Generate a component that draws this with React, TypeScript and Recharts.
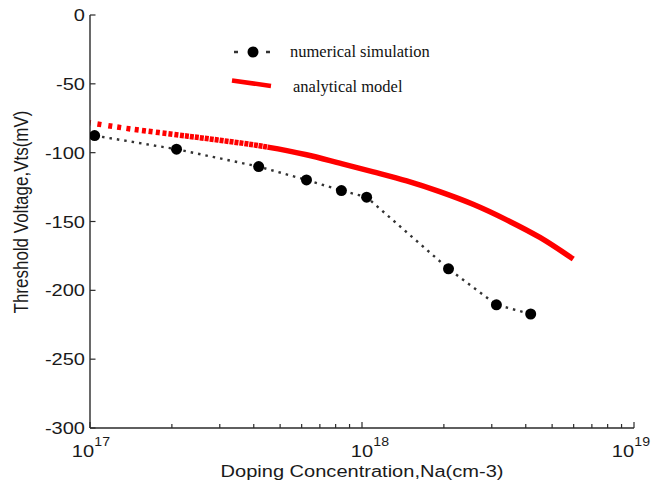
import React from 'react';
import { LineChart, Line, XAxis, YAxis, Legend } from 'recharts';

// ---- data ----
const simNa = [1.04e17, 2.08e17, 4.17e17, 6.25e17, 8.4e17, 1.04e18, 2.08e18, 3.12e18, 4.17e18];
const simVts = [-87.6, -97.5, -110.1, -119.8, -127.5, -132.3, -184.4, -210.5, -217.2];

const modelNa = [0.99e17, 1.39e17, 1.79e17, 2.29e17, 2.95e17, 4.2e17, 6.25e17, 8.28e17, 1.1e18, 1.46e18, 1.93e18, 2.56e18, 3.4e18, 4.51e18, 5.98e18];
const modelVts = [-78.2, -82.6, -85.4, -88.0, -90.8, -95.0, -101.5, -107.6, -113.9, -120.5, -128.3, -137.5, -148.8, -161.6, -177.3];

const xTickValues = [1e17, 2e17, 3e17, 4e17, 5e17, 6e17, 7e17, 8e17, 9e17, 1e18, 2e18, 3e18, 4e18, 5e18, 6e18, 7e18, 8e18, 9e18, 1e19];
const xLabelTicks = [1e17, 1e18, 1e19];
const yTickValues = [0, -50, -100, -150, -200, -250, -300];

const seriesNames = ['numerical simulation', 'analytical model'];
const xTitle = 'Doping Concentration,Na(cm-3)';
const yTitle = 'Threshold Voltage,Vts(mV)';

const simData = simNa.map((na, i) => ({ na, vts: simVts[i] }));
const modelData = modelNa.map((na, i) => ({ na, vts: modelVts[i] }));

// ---- styles ----
const FONT = '"Liberation Sans", Arial, Helvetica, sans-serif';
const SERIF = '"Liberation Serif", "Times New Roman", serif';
const SX = 1.18;
const AXIS = '#2a2a2a';
const TEXT = '#1a1a1a';
const RED = '#ff0000';
const MODEL_DASH =
  '2 6.7 4 7 4 5 4 5.3 4 4.4 4 3.3 4 2.7 4 3.3 4 2.7 4 2 4 2 4 1.6 4 1 4 1 4 1 4 1 4 1 4 1 4 1 4 1 4 1 4 1 4 1 4 1 4 1 4 0.8 4 0.8 4 0.7 4 0.6 4 0.5 4000 0';

const isMajor = (v: number) => xLabelTicks.some((t) => Math.abs(t - v) / t < 1e-6);
const labelShift: Record<number, number> = { 17: -7, 18: 0, 19: -11 };

const BottomTick = (props: any) => {
  const { x, y, payload } = props;
  const v = payload.value as number;
  const major = isMajor(v);
  const exp = Math.round(Math.log10(v));
  return (
    <g>
      <line x1={x} x2={x} y1={y} y2={y - (major ? 6 : 4)} stroke={AXIS} strokeWidth={1.2} />
      {major && (
        <g transform={`translate(${x + (labelShift[exp] || 0)},${y}) scale(${SX},1)`}>
          <text x={0} y={29} textAnchor="middle" fontSize={17} fontFamily={FONT} fill={TEXT}>10</text>
          <text x={9.6} y={18} textAnchor="start" fontSize={12} fontFamily={FONT} fill={TEXT}>{exp}</text>
        </g>
      )}
    </g>
  );
};

const TopTick = (props: any) => {
  const { x, y, payload } = props;
  const major = isMajor(payload.value);
  return <line x1={x} x2={x} y1={y} y2={y + (major ? 5 : 3)} stroke={AXIS} strokeWidth={1.2} />;
};

const LeftTick = (props: any) => {
  const { x, y, payload } = props;
  return (
    <g>
      <line x1={x} x2={x + 5.5} y1={y} y2={y} stroke={AXIS} strokeWidth={1.2} />
      <g transform={`translate(${x - 5},${y}) scale(${SX},1)`}>
        <text x={0} y={6} textAnchor="end" fontSize={17} fontFamily={FONT} fill={TEXT}>{payload.value}</text>
      </g>
    </g>
  );
};

const RightTick = (props: any) => {
  const { x, y } = props;
  return <line x1={x} x2={x - 6} y1={y} y2={y} stroke={AXIS} strokeWidth={1.2} />;
};

const XTitle = () => (
  <g transform={`translate(362,477) scale(${SX},1)`}>
    <text x={0} y={0} textAnchor="middle" fontSize={17} fontFamily={FONT} fill={TEXT}>{xTitle}</text>
  </g>
);

const YTitle = () => (
  <g transform={`translate(28,212) scale(${SX},1) rotate(-90)`}>
    <text x={0} y={0} textAnchor="middle" fontSize={17} fontFamily={FONT} fill={TEXT}>{yTitle}</text>
  </g>
);

const LG_X = 225;
const LG_Y = 35;
const LegendContent = () => (
  <svg width={240} height={70} style={{ display: 'block', overflow: 'visible' }}>
    <g transform={`translate(${-LG_X},${-LG_Y})`}>
      <line x1={234} x2={238} y1={52} y2={52} stroke="#333" strokeWidth={2.5} />
      <line x1={266} x2={270} y1={52} y2={52} stroke="#333" strokeWidth={2.5} />
      <circle cx={253} cy={52} r={5.5} fill="#000" />
      <text x={290} y={57} fontSize={16.5} fontFamily={SERIF} fill="#111">{seriesNames[0]}</text>
      <line x1={232} x2={271} y1={80.5} y2={86} stroke={RED} strokeWidth={4.5} />
      <text x={293} y={92} fontSize={16.5} fontFamily={SERIF} fill="#111">{seriesNames[1]}</text>
    </g>
  </svg>
);

export default function App() {
  return (
    <div style={{ position: 'absolute', left: 0, top: 0, width: 652, height: 489, background: '#fff' }}>
      <LineChart width={652} height={489} margin={{ top: 15, right: 18, bottom: 0, left: 0 }}>
        <XAxis
          xAxisId="bottom"
          dataKey="na"
          type="number"
          scale="log"
          domain={[1e17, 1e19]}
          allowDataOverflow
          ticks={xTickValues}
          interval={0}
          tickSize={0}
          tickMargin={0}
          tickLine={false}
          height={61}
          axisLine={{ stroke: AXIS, strokeWidth: 1.4 }}
          tick={(p: any) => <BottomTick {...p} />}
          label={<XTitle />}
        />
        <XAxis
          xAxisId="top"
          orientation="top"
          dataKey="na"
          type="number"
          scale="log"
          domain={[1e17, 1e19]}
          allowDataOverflow
          ticks={xTickValues}
          interval={0}
          tickSize={0}
          tickMargin={0}
          tickLine={false}
          height={0}
          axisLine={{ stroke: AXIS, strokeWidth: 1.4 }}
          tick={(p: any) => <TopTick {...p} />}
        />
        <YAxis
          yAxisId="left"
          type="number"
          domain={[-300, 0]}
          allowDataOverflow
          ticks={yTickValues}
          interval={0}
          tickSize={0}
          tickMargin={0}
          tickLine={false}
          width={90}
          axisLine={{ stroke: AXIS, strokeWidth: 1.4 }}
          tick={(p: any) => <LeftTick {...p} />}
          label={<YTitle />}
        />
        <YAxis
          yAxisId="right"
          orientation="right"
          type="number"
          domain={[-300, 0]}
          allowDataOverflow
          ticks={yTickValues}
          interval={0}
          tickSize={0}
          tickMargin={0}
          tickLine={false}
          width={0}
          axisLine={{ stroke: AXIS, strokeWidth: 1.4 }}
          tick={(p: any) => <RightTick {...p} />}
        />
        <Line
          xAxisId="bottom"
          yAxisId="left"
          data={modelData}
          dataKey="vts"
          name={seriesNames[1]}
          type="monotone"
          stroke={RED}
          strokeWidth={5.5}
          strokeDasharray={MODEL_DASH}
          dot={false}
          activeDot={false}
          isAnimationActive={false}
        />
        <Line
          xAxisId="bottom"
          yAxisId="left"
          data={simData}
          dataKey="vts"
          name={seriesNames[0]}
          type="linear"
          stroke="#333"
          strokeWidth={2.4}
          strokeDasharray="2.5 5"
          dot={{ r: 5.5, fill: '#000', stroke: 'none' }}
          activeDot={false}
          isAnimationActive={false}
        />
        <Legend
          verticalAlign="middle"
          align="center"
          layout="horizontal"
          content={() => <LegendContent />}
          wrapperStyle={{ position: 'absolute', left: LG_X, top: LG_Y, width: 240, height: 70 }}
        />
      </LineChart>
    </div>
  );
}
